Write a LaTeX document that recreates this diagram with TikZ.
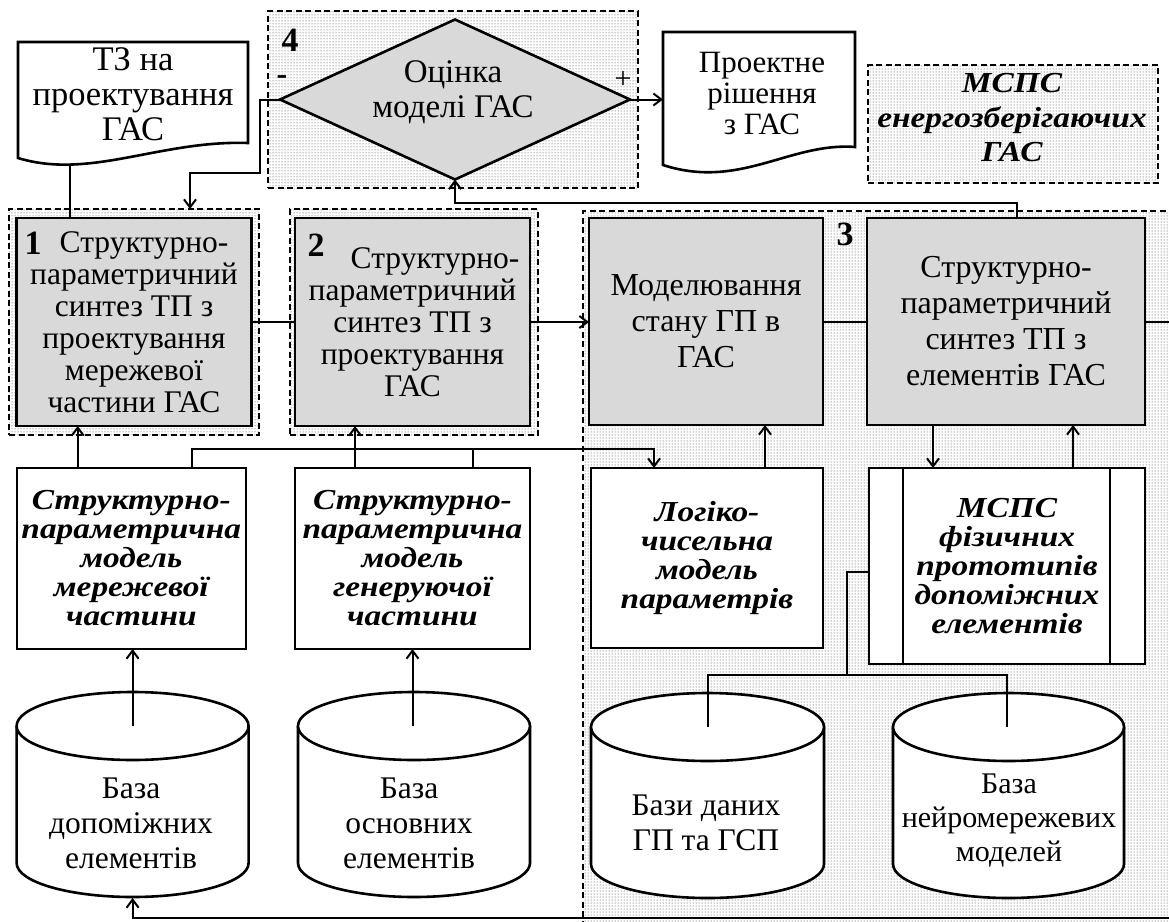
\documentclass[tikz,border=0pt]{standalone}
\usepackage{fontspec}
\setmainfont{Liberation Serif}
\newfontfamily\bisf{Liberation Serif}[FakeStretch=1.15]
\usetikzlibrary{arrows.meta,patterns,shapes.geometric}
\newcommand\mycyl[3]{%
  \draw[line width=2.6pt,fill=white] (#1-#2,#3) -- (#1-#2,#3+137) arc[start angle=180,end angle=0,x radius=#2,y radius=34] -- (#1+#2,#3);
  \draw[line width=2.6pt,fill=white] (#1,#3) ellipse[x radius=#2,y radius=34];}
\begin{document}
\begin{tikzpicture}[x=1pt,y=-1pt,
  every node/.style={align=center,inner sep=0pt,outer sep=0pt},
  frame/.style={draw,line width=1.2pt,dash pattern=on 6pt off 3.5pt,pattern=dots,pattern color=black!80},
  graybox/.style={draw,line width=2.6pt,fill=black!15,font=\fontsize{31.5}{32}\selectfont},
  whitebox/.style={draw,line width=2.6pt,fill=white},
  bitext/.style={font=\bisf\bfseries\itshape\fontsize{29}{29}\selectfont},
  conn/.style={line width=2pt},
  arr/.style={conn,-{Straight Barb[length=8pt,width=12pt]}},
  cyltext/.style={font=\fontsize{31.5}{35}\selectfont},
  numlabel/.style={font=\bfseries\fontsize{34}{34}\selectfont}
]
\useasboundingbox (0,0) rectangle (1169,921);

% background frames
\node[frame,anchor=north west,minimum width=620pt,minimum height=720pt] (reg3) at (583,211) {};
\node[frame,minimum width=250pt,minimum height=226pt] (f1) at (134,322) {};
\node[frame,minimum width=248pt,minimum height=226pt] (f2) at (414,322) {};
\node[frame,minimum width=370pt,minimum height=177pt] (f4) at (453,99.5) {};
\node[frame,minimum width=290pt,minimum height=118pt] (fe) at (1013,124) {};
\node[font=\bisf\bfseries\itshape\fontsize{29}{34.5}\selectfont] (fet) at (1012,118) {МСПС\\енергозберігаючих\\ГАС};

% document shapes
\draw[line width=2.6pt,fill=white] (18,42) -- (248,42) -- (248,143) .. controls (160,140) and (90,180) .. (18,158) -- cycle;
\node[font=\fontsize{34.5}{35}\selectfont] (tz) at (133,94) {ТЗ на\\проектування\\ГАС};
\coordinate (tzb) at (70,166);
\draw[line width=2.6pt,fill=white] (663,32) -- (855,32) -- (855,147) .. controls (790,142) and (740,190) .. (663,165) -- cycle;
\node[font=\fontsize{31}{31}\selectfont] (pr) at (762,93) {Проектне\\рішення\\з ГАС};
\coordinate (prl) at (663,99);

% diamond
\node[diamond,draw,line width=2.6pt,fill=black!15,minimum width=350pt,minimum height=160pt,aspect=2.19] (dia) at (455,99.5) {};
\node[font=\fontsize{33}{35}\selectfont] (diat) at (453,92) {Оцінка\\моделі ГАС};
\node[numlabel] (n4) at (290,40) {4};
\node[font=\bfseries\fontsize{32}{30}\selectfont] (minus) at (282,80) {-};
\node[font=\fontsize{30}{30}\selectfont] (plus) at (623,80) {+};

% main boxes
\node[graybox,minimum width=235pt,minimum height=208pt] (b1) at (134,322) {\hspace*{20pt}Структурно-\\параметричний\\синтез ТП з\\проектування\\мережевої\\частини ГАС};
\node[numlabel] (n1) at (33,243) {1};
\node[graybox,minimum width=235pt,minimum height=208pt] (b2) at (412.5,322) {\hspace*{45pt}Структурно-\\параметричний\\синтез ТП з\\проектування\\ГАС};
\node[numlabel] (n2) at (316,245) {2};
\node[graybox,font=\fontsize{32}{36}\selectfont,minimum width=234pt,minimum height=207pt] (M) at (706,321.5) {Моделювання\\стану ГП в\\ГАС};
\node[graybox,font=\fontsize{32}{36}\selectfont,minimum width=278pt,minimum height=207pt] (R) at (1006,321.5) {Структурно-\\параметричний\\синтез ТП з\\елементів ГАС};
\node[numlabel] (n3) at (845,234) {3};

% model boxes
\node[whitebox,bitext,minimum width=229pt,minimum height=181pt] (m1) at (131.3,558.5) {Структурно-\\параметрична\\модель\\мережевої\\частини};
\node[whitebox,bitext,minimum width=235pt,minimum height=181pt] (m2) at (412.5,558.5) {Структурно-\\параметрична\\модель\\генеруючої\\частини};
\node[whitebox,bitext,minimum width=232pt,minimum height=180pt] (L) at (707,558) {Логіко-\\чисельна\\модель\\параметрів};
\node[whitebox,bitext,minimum width=276pt,minimum height=196pt] (P) at (1007,566) {МСПС\\фізичних\\прототипів\\допоміжних\\елементів};
\draw[line width=2.6pt] ([xshift=34pt]P.north west) -- ([xshift=34pt]P.south west);
\draw[line width=2.6pt] ([xshift=-35pt]P.north east) -- ([xshift=-35pt]P.south east);

% cylinders
\mycyl{132.6}{116}{726}
\mycyl{414}{116}{726}
\mycyl{707.5}{116.5}{727}
\mycyl{1008.5}{115.5}{727}
\node[cyltext] (c1) at (131,823) {База\\допоміжних\\елементів};
\node[cyltext] (c2) at (409,823) {База\\основних\\елементів};
\node[cyltext] (c3) at (706,822.5) {Бази даних\\ГП та ГСП};
\node[font=\fontsize{30}{34}\selectfont] (c4) at (1009,821) {База\\нейромережевих\\моделей};
\coordinate (c1top) at (132.6,726);
\coordinate (c1bot) at (132.6,898);
\coordinate (c2top) at (412.5,726);
\coordinate (c3top) at (707.5,727);
\coordinate (c4top) at (1007,727);

% rails
\coordinate (xa) at (77.7,0);
\coordinate (xb) at (191.6,449);
\coordinate (xc) at (355,0);
\coordinate (xd) at (473,449);
\coordinate (xe) at (654,449);
\coordinate (xf) at (765,0);
\coordinate (xg) at (933,0);
\coordinate (xh) at (1073,0);
\coordinate (k1) at (260,173);
\coordinate (k2) at (190,173);
\coordinate (k3) at (1017,203);
\coordinate (rt) at (1190,918);
\coordinate (pl1) at (847,572);
\coordinate (pl2) at (847,675);

% connectors
\draw[conn] (tzb) -- (tzb |- b1.north);
\draw[arr] (dia.west) -| (k1) -- (k2) -- (k2 |- f1.north);
\draw[arr] (dia.east) -- (dia.east -| prl);
\draw[arr] (k3 |- R.north) -- (k3) -| (dia.south);
\draw[conn] (b1.east) -- (b2.west);
\draw[arr] (b2.east) -- (b2.east -| M.west);
\draw[conn] (M.east) -- (M.east -| R.west);
\draw[arr] (R.east) -| (rt) -| (c1bot);
\draw[arr] (c1top) -- (c1top |- m1.south);
\draw[arr] (c2top) -- (c2top |- m2.south);
\draw[arr] (xa |- m1.north) -- (xa |- b1.south);
\draw[arr] (xc |- m2.north) -- (xc |- b2.south);
\draw[arr] (xb |- m1.north) -- (xb) -- (xe) -- (xe |- L.north);
\draw[conn] (xd |- m2.north) -- (xd);
\draw[arr] (xf |- L.north) -- (xf |- M.south);
\draw[arr] (xg |- R.south) -- (xg |- P.north);
\draw[arr] (xh |- P.north) -- (xh |- R.south);
\draw[conn] (P.west |- pl1) -- (pl1) -- (pl2);
\draw[conn] (c3top) -- (c3top |- pl2) -- (c4top |- pl2) -- (c4top);
\end{tikzpicture}
\end{document}
